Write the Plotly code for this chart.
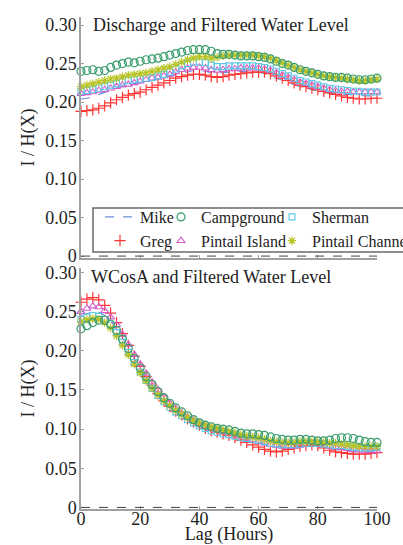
import plotly.graph_objects as go

lags = list(range(0, 101, 2))

# ---- Top panel: Discharge and Filtered Water Level ----
top_mike = [0.204,0.205,0.207,0.210,0.213,0.216,0.219,0.221,0.223,0.224,0.225,0.226,0.228,0.230,0.232,0.234,0.236,0.238,0.240,0.241,0.241,0.240,0.238,0.237,0.238,0.239,0.239,0.240,0.240,0.240,0.239,0.237,0.234,0.231,0.228,0.225,0.222,0.220,0.218,0.216,0.214,0.213,0.212,0.211,0.210,0.210,0.209,0.209,0.208,0.208,0.208]
top_greg = [0.188,0.189,0.190,0.192,0.195,0.199,0.203,0.206,0.209,0.211,0.213,0.216,0.219,0.222,0.225,0.228,0.231,0.233,0.235,0.236,0.236,0.235,0.233,0.232,0.233,0.235,0.236,0.237,0.238,0.239,0.239,0.239,0.237,0.234,0.231,0.228,0.225,0.222,0.220,0.218,0.216,0.214,0.212,0.210,0.208,0.206,0.205,0.204,0.204,0.205,0.205]
top_camp = [0.240,0.241,0.242,0.240,0.241,0.245,0.248,0.250,0.252,0.251,0.253,0.255,0.256,0.257,0.259,0.261,0.263,0.265,0.267,0.268,0.268,0.268,0.266,0.263,0.262,0.262,0.261,0.260,0.260,0.260,0.259,0.258,0.256,0.253,0.250,0.248,0.245,0.242,0.240,0.238,0.236,0.234,0.233,0.232,0.232,0.231,0.230,0.229,0.229,0.230,0.231]
top_pisl = [0.211,0.212,0.213,0.215,0.216,0.218,0.220,0.222,0.223,0.225,0.227,0.229,0.231,0.232,0.234,0.236,0.239,0.242,0.244,0.245,0.245,0.244,0.242,0.241,0.242,0.243,0.243,0.244,0.244,0.244,0.244,0.243,0.241,0.238,0.235,0.232,0.229,0.226,0.224,0.222,0.220,0.218,0.216,0.215,0.214,0.214,0.213,0.213,0.213,0.213,0.213]
top_sher = [0.214,0.215,0.216,0.218,0.220,0.222,0.224,0.226,0.228,0.229,0.230,0.231,0.232,0.234,0.236,0.239,0.243,0.247,0.250,0.252,0.252,0.251,0.248,0.246,0.246,0.247,0.247,0.247,0.247,0.247,0.246,0.245,0.243,0.240,0.237,0.234,0.231,0.228,0.226,0.224,0.222,0.220,0.218,0.217,0.216,0.215,0.214,0.214,0.213,0.213,0.213]
top_pchn = [0.220,0.222,0.224,0.226,0.228,0.230,0.231,0.233,0.235,0.236,0.237,0.238,0.240,0.242,0.244,0.246,0.249,0.252,0.255,0.257,0.259,0.259,0.257,0.258,0.260,0.261,0.261,0.261,0.261,0.261,0.260,0.259,0.257,0.254,0.251,0.248,0.245,0.242,0.240,0.238,0.236,0.234,0.233,0.232,0.231,0.230,0.229,0.228,0.228,0.229,0.230]

# ---- Bottom panel: WCosA and Filtered Water Level ----
bot_mike = [0.245,0.248,0.250,0.249,0.245,0.238,0.228,0.216,0.203,0.190,0.178,0.166,0.155,0.146,0.137,0.130,0.124,0.118,0.113,0.109,0.105,0.102,0.099,0.097,0.095,0.093,0.091,0.089,0.087,0.085,0.083,0.081,0.079,0.078,0.077,0.077,0.078,0.079,0.080,0.080,0.079,0.077,0.075,0.074,0.073,0.072,0.071,0.071,0.071,0.071,0.071]
bot_greg = [0.262,0.266,0.268,0.265,0.258,0.248,0.236,0.222,0.207,0.193,0.180,0.167,0.156,0.145,0.136,0.129,0.123,0.118,0.113,0.109,0.105,0.101,0.098,0.096,0.094,0.092,0.089,0.086,0.083,0.080,0.077,0.074,0.072,0.071,0.072,0.074,0.076,0.078,0.079,0.080,0.079,0.076,0.073,0.071,0.070,0.069,0.068,0.068,0.068,0.069,0.070]
bot_camp = [0.228,0.232,0.236,0.239,0.239,0.234,0.226,0.215,0.203,0.190,0.178,0.167,0.157,0.148,0.140,0.133,0.127,0.122,0.117,0.112,0.108,0.105,0.103,0.101,0.100,0.099,0.097,0.095,0.094,0.094,0.093,0.092,0.090,0.088,0.087,0.086,0.086,0.087,0.087,0.086,0.085,0.085,0.086,0.088,0.089,0.089,0.088,0.086,0.084,0.083,0.083]
bot_pisl = [0.250,0.254,0.257,0.256,0.251,0.243,0.233,0.221,0.208,0.195,0.183,0.171,0.160,0.150,0.141,0.133,0.126,0.120,0.115,0.111,0.107,0.104,0.101,0.099,0.097,0.095,0.093,0.090,0.088,0.086,0.084,0.082,0.080,0.079,0.078,0.078,0.078,0.079,0.080,0.080,0.080,0.079,0.078,0.077,0.076,0.075,0.074,0.073,0.072,0.072,0.072]
bot_sher = [0.240,0.243,0.245,0.244,0.240,0.233,0.223,0.211,0.198,0.185,0.173,0.162,0.152,0.143,0.135,0.128,0.122,0.117,0.112,0.108,0.104,0.101,0.098,0.096,0.094,0.093,0.091,0.089,0.088,0.087,0.086,0.084,0.082,0.081,0.080,0.080,0.080,0.081,0.082,0.082,0.082,0.081,0.080,0.079,0.079,0.078,0.077,0.076,0.076,0.076,0.077]
bot_pchn = [0.237,0.240,0.241,0.240,0.236,0.229,0.219,0.207,0.195,0.183,0.172,0.162,0.152,0.144,0.136,0.130,0.124,0.119,0.115,0.111,0.108,0.105,0.103,0.101,0.099,0.097,0.095,0.093,0.091,0.090,0.089,0.087,0.085,0.084,0.083,0.083,0.083,0.084,0.084,0.084,0.084,0.083,0.082,0.082,0.081,0.080,0.079,0.078,0.078,0.078,0.078]

series_names = ["Mike", "Greg", "Campground", "Pintail Island", "Sherman", "Pintail Channel"]
y_ticks = [0, 0.05, 0.10, 0.15, 0.20, 0.25, 0.30]
y_ticktext = ["0", "0.05", "0.10", "0.15", "0.20", "0.25", "0.30"]
x_ticks = [0, 20, 40, 60, 80, 100]

FONT = "Liberation Serif"
C_MIKE, C_GREG, C_CAMP = "#6f8fdc", "#ff3535", "#3a9e6e"
C_PISL, C_SHER, C_PCHN = "#d45ccc", "#5cc8e4", "#b9c424"
styles = {
    "Mike": dict(mode="lines", line=dict(color=C_MIKE, dash="dash", width=1.2)),
    "Greg": dict(mode="markers", marker=dict(symbol="cross-thin-open", size=8, color=C_GREG, line=dict(color=C_GREG, width=1.2))),
    "Campground": dict(mode="markers", marker=dict(symbol="circle-open", size=8, color=C_CAMP, line=dict(color=C_CAMP, width=1.2))),
    "Pintail Island": dict(mode="markers", marker=dict(symbol="triangle-up-open", size=7, color=C_PISL, line=dict(color=C_PISL, width=1.1))),
    "Sherman": dict(mode="markers", marker=dict(symbol="square-open", size=6, color=C_SHER, line=dict(color=C_SHER, width=1.1))),
    "Pintail Channel": dict(mode="markers", marker=dict(symbol="asterisk-open", size=7, color=C_PCHN, line=dict(color=C_PCHN, width=1.2))),
}
legend_of = {"Mike": "legend", "Greg": "legend", "Campground": "legend2",
             "Pintail Island": "legend2", "Sherman": "legend3", "Pintail Channel": "legend3"}

top_data = dict(zip(series_names, [top_mike, top_greg, top_camp, top_pisl, top_sher, top_pchn]))
bot_data = dict(zip(series_names, [bot_mike, bot_greg, bot_camp, bot_pisl, bot_sher, bot_pchn]))

fig = go.Figure()
draw_order = ["Mike", "Greg", "Pintail Island", "Sherman", "Pintail Channel", "Campground"]
legend_rank = {n: i for i, n in enumerate(series_names)}
for name in draw_order:
    fig.add_trace(go.Scatter(x=lags, y=top_data[name], name=name, xaxis="x", yaxis="y",
                             legend=legend_of[name], legendrank=legend_rank[name],
                             cliponaxis=False, **styles[name]))
for name in draw_order:
    fig.add_trace(go.Scatter(x=lags, y=bot_data[name], name=name, xaxis="x2", yaxis="y2",
                             showlegend=False, cliponaxis=False, **styles[name]))

W, H = 403, 545
def px(v): return v / W
def py(v): return 1 - v / H

axis_common = dict(showline=True, linecolor="#a0a0a0", linewidth=1.5, showgrid=False,
                   zeroline=False, ticks="inside", ticklen=3, tickcolor="#a0a0a0",
                   tickfont=dict(family=FONT, size=18, color="#222"))

fig.update_layout(
    width=W, height=H,
    margin=dict(l=0, r=0, t=0, b=0, autoexpand=False),
    paper_bgcolor="white", plot_bgcolor="white",
    font=dict(family=FONT, color="#222"),
    xaxis=dict(domain=[px(81), px(377)], range=[0, 100], anchor="y", tickvals=x_ticks,
               showticklabels=False, **axis_common),
    yaxis=dict(domain=[py(258), py(17)], range=[-0.0025, 0.3105], anchor="x",
               tickvals=y_ticks, ticktext=y_ticktext, ticklabelstandoff=-1,
               title=dict(text="I / H(X)", font=dict(family=FONT, size=18), standoff=6),
               **axis_common),
    xaxis2=dict(domain=[px(81), px(377)], range=[0, 100], anchor="y2", tickvals=x_ticks,
                ticklabelstandoff=-7,
                title=dict(text="Lag (Hours)", font=dict(family=FONT, size=18), standoff=4),
                **axis_common),
    yaxis2=dict(domain=[py(509), py(268)], range=[-0.002, 0.3057], anchor="x2",
                tickvals=y_ticks, ticktext=y_ticktext, ticklabelstandoff=-1,
                title=dict(text="I / H(X)", font=dict(family=FONT, size=18), standoff=6),
                **axis_common),
)

legend_common = dict(orientation="v", yanchor="top", xanchor="left", bgcolor="rgba(0,0,0,0)",
                     borderwidth=0, font=dict(family=FONT, size=16, color="#222"),
                     tracegroupgap=0)
fig.update_layout(
    legend=dict(x=px(100), y=py(200), **legend_common),
    legend2=dict(x=px(161), y=py(200), **legend_common),
    legend3=dict(x=px(272), y=py(200), **legend_common),
)

# legend frame
fig.add_shape(type="rect", xref="paper", yref="paper", x0=px(93), x1=px(410),
              y0=py(252), y1=py(208), line=dict(color="#6a6a6a", width=1.5))

# zero reference lines
for xa, ya in [("x", "y"), ("x2", "y2")]:
    fig.add_shape(type="line", xref=f"{xa} domain", yref=ya, x0=0, x1=1, y0=0, y1=0,
                  line=dict(color="#444", width=1, dash="dash"))

fig.add_annotation(text="Discharge and Filtered Water Level", xref="paper", yref="paper",
                   x=px(91), y=py(25), xanchor="left", yanchor="middle", showarrow=False,
                   font=dict(family=FONT, size=18, color="#222"))
fig.add_annotation(text="WCosA and Filtered Water Level", xref="paper", yref="paper",
                   x=px(89), y=py(277), xanchor="left", yanchor="middle", showarrow=False,
                   font=dict(family=FONT, size=18, color="#222"))

fig.write_html("out.html", config={"displayModeBar": False},
               post_script="document.body.style.margin='0px';")
